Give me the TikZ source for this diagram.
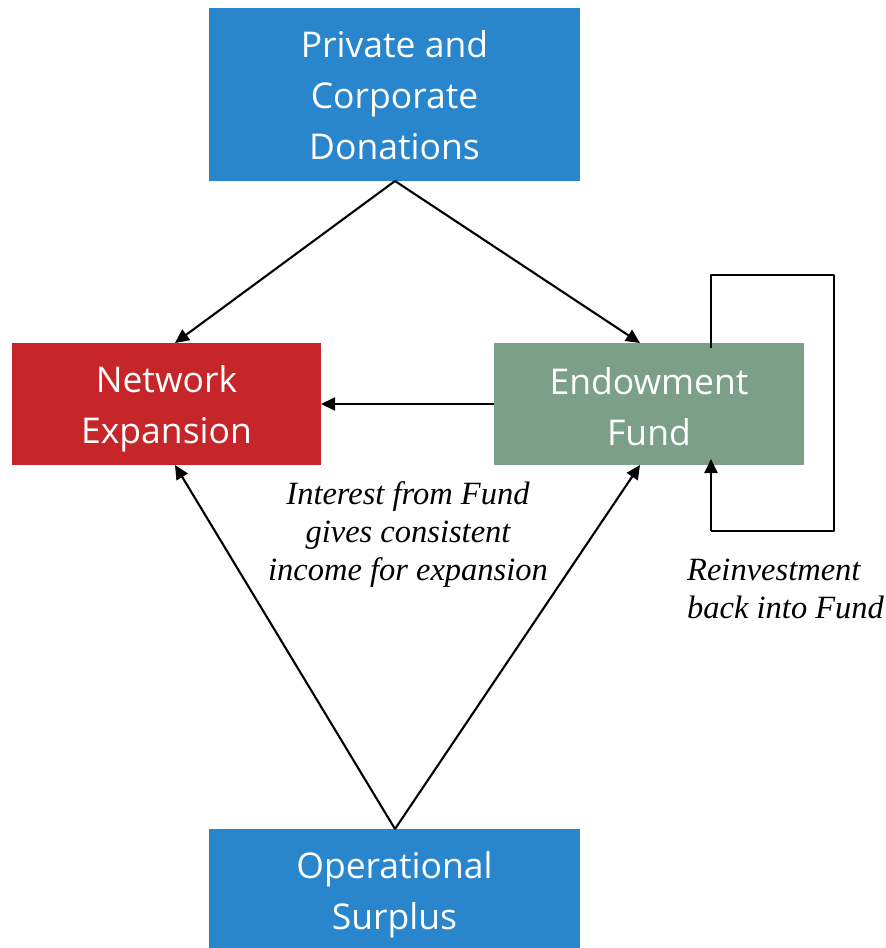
\documentclass[tikz,border=0pt]{standalone}
\usepackage{fontspec}
\setmainfont{Open Sans}
\newfontfamily\notefont{Liberation Serif}
\usetikzlibrary{arrows.meta}
\definecolor{boxblue}{RGB}{41,134,204}
\definecolor{boxred}{RGB}{198,38,41}
\definecolor{boxgreen}{RGB}{123,160,135}
\tikzset{
  box/.style={draw=none, rectangle, inner sep=0pt},
  boxtext/.style={inner sep=0pt, align=center, text=white,
    font=\fontsize{35.5}{51}\selectfont},
  note/.style={inner sep=0pt, font=\notefont\itshape\fontsize{32.5}{38}\selectfont},
  flow/.style={line width=2.1pt, -{Triangle[length=14pt,width=13pt]}},
  plain/.style={line width=2.1pt},
}
\begin{document}
\begin{tikzpicture}[x=1pt,y=-1pt]
\useasboundingbox (0,0) rectangle (886,948);
\node[box, fill=boxblue, minimum width=371pt, minimum height=173pt] (don) at (394.5,94.5) {};
\node[box, fill=boxred, minimum width=309pt, minimum height=122pt] (net) at (166.5,404) {};
\node[box, fill=boxgreen, minimum width=310pt, minimum height=122pt] (end) at (649,404) {};
\node[box, fill=boxblue, minimum width=371pt, minimum height=119pt] (ops) at (394.5,888.5) {};

\node[boxtext] (dontext) at (394.5,95.5) {Private and\\Corporate\\Donations};
\node[boxtext] (nettext) at (166.5,409) {Network\\Expansion};
\node[boxtext] (endtext) at (649,407) {Endowment\\Fund};
\node[boxtext] (opstext) at (394.5,894.5) {Operational\\Surplus};

\coordinate (dtop) at (395,181);
\coordinate (nt) at (175,343);
\coordinate (et) at (640,343);
\coordinate (nb) at (175,465);
\coordinate (eb) at (640,465);
\coordinate (obot) at (395,829);
\coordinate (nr) at (321,404);
\coordinate (el) at (494,404);

\draw[flow] (dtop) -- (nt);
\draw[flow] (dtop) -- (et);
\draw[flow] (el) -- (nr);
\draw[flow] (obot) -- (nb);
\draw[flow] (obot) -- (eb);

\coordinate (l1) at (711,348);
\coordinate (l2) at (711,275);
\coordinate (l3) at (834,275);
\coordinate (l4) at (834,531);
\coordinate (l5) at (711,531);
\coordinate (l6) at (711,459);
\draw[plain, line join=round] (l1) -- (l2) -- (l3) -- (l4) -- (l5);
\draw[flow] (l5) -- (l6);

\node[note, align=center] (int) at (408,535) {Interest from Fund\\gives consistent\\income for expansion};
\node[note, align=left, anchor=west] (rein) at (687,589) {Reinvestment\\back into Fund};
\end{tikzpicture}
\end{document}
